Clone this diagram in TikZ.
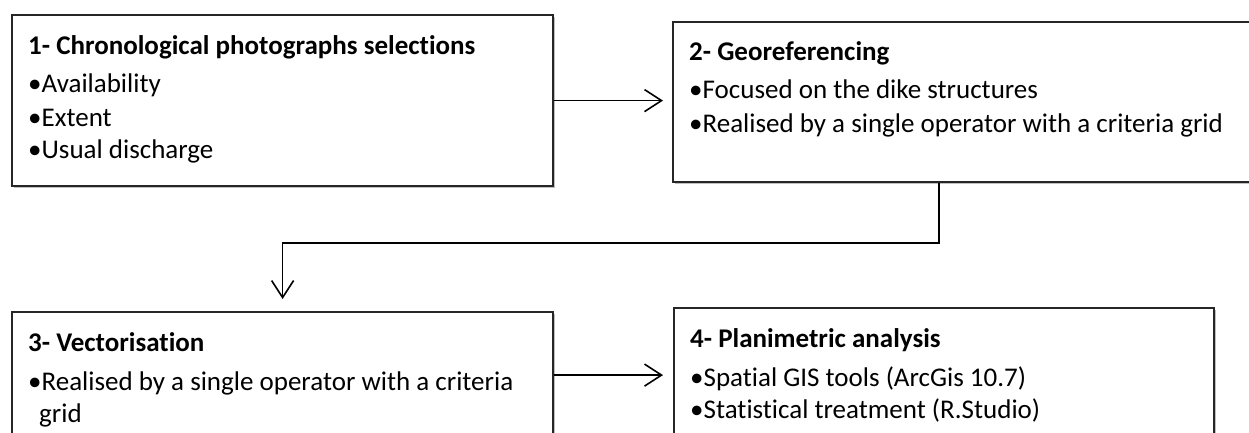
\documentclass[tikz,border=0pt]{standalone}
\usepackage{fontspec}
\setmainfont[Ligatures=NoCommon]{Carlito}
\usetikzlibrary{arrows.meta,shadows}
\tikzset{
  box/.style={draw=black!85, line width=2.2pt, fill=white, rectangle, inner sep=0pt,
    anchor=north west, drop shadow={shadow xshift=2pt, shadow yshift=-2pt, fill=black, opacity=0.25}},
  ttl/.style={anchor=base west, inner sep=0pt, font=\fontsize{27}{32}\selectfont\bfseries},
  itm/.style={anchor=base west, inner sep=0pt, font=\fontsize{27}{32}\selectfont},
  arr/.style={line width=1.6pt, -{Straight Barb[length=17pt, width=22pt, line width=1.6pt]}},
}
\begin{document}
\begin{tikzpicture}[x=1pt, y=-1pt]
\useasboundingbox (0,0) rectangle (1249,433);
\clip (0,0) rectangle (1249,433);
\fill[white] (0,0) rectangle (1249,433);
% boxes
\node[box, minimum width=541pt, minimum height=171pt] (b1) at (11,14) {};
\node[box, minimum width=590pt, minimum height=160pt] (b2) at (672,21) {};
\node[box, minimum width=541pt, minimum height=126pt] (b3) at (11,311) {};
\node[box, minimum width=540pt, minimum height=134pt] (b4) at (673,307) {};
% texts box 1
\node[ttl] (t1) at (28,55) {1- Chronological photographs selections};
\node[itm] (t1a) at (28,93) {•Availability};
\node[itm] (t1b) at (28,126) {•Extent};
\node[itm] (t1c) at (28,158) {•Usual discharge};
% texts box 2
\node[ttl] (t2) at (689,61) {2- Georeferencing};
\node[itm] (t2a) at (689,99) {•Focused on the dike structures};
\node[itm] (t2b) at (689,132) {•Realised by a single operator with a criteria grid};
% texts box 3
\node[ttl] (t3) at (28,351) {3- Vectorisation};
\node[itm] (t3a) at (28,390) {•Realised by a single operator with a criteria};
\node[itm] (t3b) at (39,422) {grid};
% texts box 4
\node[ttl] (t4) at (690,347) {4- Planimetric analysis};
\node[itm] (t4a) at (690,386) {•Spatial GIS tools (ArcGis 10.7)};
\node[itm] (t4b) at (690,418) {•Statistical treatment (R.Studio)};
% connectors
\coordinate (b2s) at ([xshift=267pt]b2.south west);
\draw[arr, shorten >=9pt] (b1.east) -- (b1.east -| b2.west);
\draw[arr, shorten >=12pt] (b2s) -- (b2s |- 0,243) -| (b3.north);
\draw[arr, shorten >=10pt] (b3.east) -- (b3.east -| b4.west);
\end{tikzpicture}
\end{document}
